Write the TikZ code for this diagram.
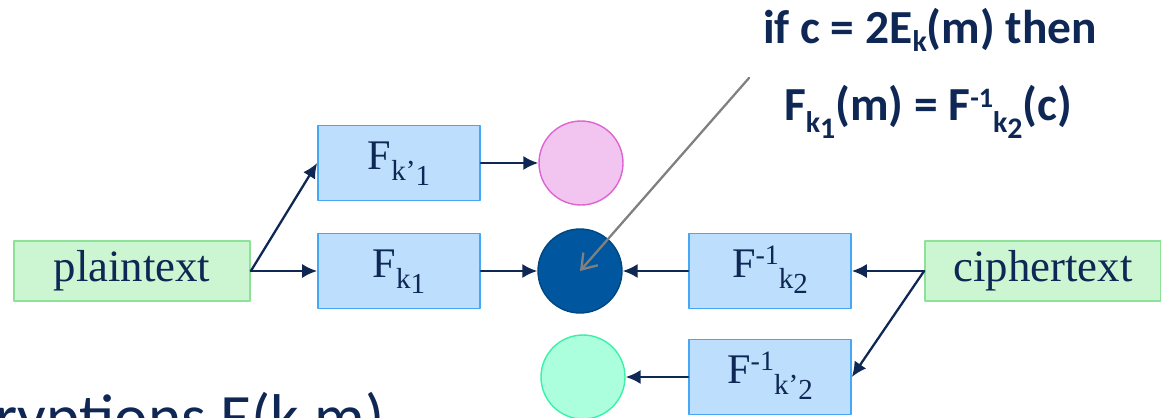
\documentclass[tikz,border=0pt]{standalone}
\usepackage{fontspec}
\newfontfamily\carlito{Carlito}
\newfontfamily\boxfont{Liberation Serif}
\usetikzlibrary{arrows.meta}

\definecolor{navy}{RGB}{14,39,84}
\definecolor{boxfill}{RGB}{189,222,252}
\definecolor{boxline}{RGB}{70,168,245}
\definecolor{textfill}{RGB}{204,245,209}
\definecolor{textline}{RGB}{140,226,150}
\definecolor{pinkfill}{RGB}{242,196,240}
\definecolor{pinkline}{RGB}{222,100,212}
\definecolor{darkfill}{RGB}{0,87,160}
\definecolor{mintfill}{RGB}{172,255,220}
\definecolor{mintline}{RGB}{60,240,170}
\definecolor{calloutgray}{RGB}{128,128,128}

% lowered / raised index: shift, size, text
\newcommand{\drop}[3]{\raisebox{-#1}{\fontsize{#2}{#2}\selectfont #3}}
\newcommand{\lift}[3]{\raisebox{#1}{\fontsize{#2}{#2}\selectfont #3}}

\begin{document}
\begin{tikzpicture}[x=0.02cm, y=0.02cm, line cap=round, line join=round]

% --- Global TikZ Styles for Consistency ---
\tikzset{
    fbox/.style={
        draw=boxline,
        fill=boxfill,
        line width=1pt,
        minimum width=3.24cm,
        minimum height=1.5cm,
        text=navy,
        text height=16pt,
        text depth=9pt,
        font=\boxfont\fontsize{24}{28}\selectfont
    },
    msgbox/.style={
        draw=textline,
        fill=textfill,
        line width=1pt,
        minimum width=4.72cm,
        minimum height=1.2cm,
        text=navy,
        font=\boxfont\fontsize{25.5}{28}\selectfont
    },
    dot/.style={
        circle,
        line width=0.8pt,
        minimum size=1.68cm
    },
    flow/.style={
        -{Latex[length=8.5pt,width=8pt]},
        line width=1.3pt,
        draw=navy
    },
    callout/.style={
        -{Straight Barb[length=8pt,width=11pt]},
        line width=1.3pt,
        draw=calloutgray
    },
    note/.style={
        anchor=base,
        inner sep=0pt,
        text=navy,
        font=\carlito\bfseries\fontsize{27}{30}\selectfont
    }
}

% --- Page frame ---
\clip (0,0) rectangle (1161,417);

% =========================================================================
% --- Encryption side ---
% =========================================================================
\node[msgbox] (plain) at (132,146) {plaintext};

\node[fbox] (fkp) at (399,254) {F\drop{6.5pt}{16.5}{k’\drop{3pt}{16.5}{1}}};
\node[fbox] (fk)  at (399,146) {F\drop{6.5pt}{16.5}{k\drop{3pt}{16.5}{1}}};

\node[dot, draw=pinkline, fill=pinkfill] (pink) at (581,254) {};
\node[dot, draw=darkfill!80!black, fill=darkfill] (match) at (580,146) {};

\draw[flow] (plain.east) -- (fkp.west);
\draw[flow] (plain.east) -- (fk.west);
\draw[flow] (fkp.east) -- (pink.west);
\draw[flow] (fk.east) -- (match.west);

% =========================================================================
% --- Decryption side ---
% =========================================================================
\node[msgbox] (cipher) at (1043,146) {ciphertext};

\node[fbox] (finv)  at (770,146) {F\lift{7pt}{16}{-1}\drop{6.5pt}{16.5}{k\drop{3pt}{16.5}{2}}};
\node[fbox] (finvp) at (770,40)  {F\lift{7pt}{16}{-1}\drop{6.5pt}{16.5}{k’\drop{3pt}{16.5}{2}}};

\node[dot, draw=mintline, fill=mintfill] (mint) at (583,40) {};

\draw[flow] (cipher.west) -- (finv.east);
\draw[flow] (cipher.west) -- (finvp.east);
\draw[flow] (finv.west) -- (match.east);
\draw[flow] (finvp.west) -- (mint.east);

% =========================================================================
% --- Condition note ---
% =========================================================================
\node[note] (cond) at (930,374) {if c = 2E\drop{5pt}{17}{k}(m) then};
\node[note] (eq)   at (928,297) {F\drop{7pt}{17}{k\drop{3.5pt}{17}{1}}(m) = F\lift{7pt}{16}{-1}\drop{7pt}{17}{k\drop{3.5pt}{17}{2}}(c)};

\coordinate (tail) at (749,339);
\draw[callout] (tail) -- (match.center);

% --- Cut-off caption at the bottom edge ---
\node[anchor=base east, inner sep=0pt, text=navy, font=\carlito\fontsize{36}{40}\selectfont] (caption) at (385,-21) {ryptions E(k,m)};

\end{tikzpicture}
\end{document}
